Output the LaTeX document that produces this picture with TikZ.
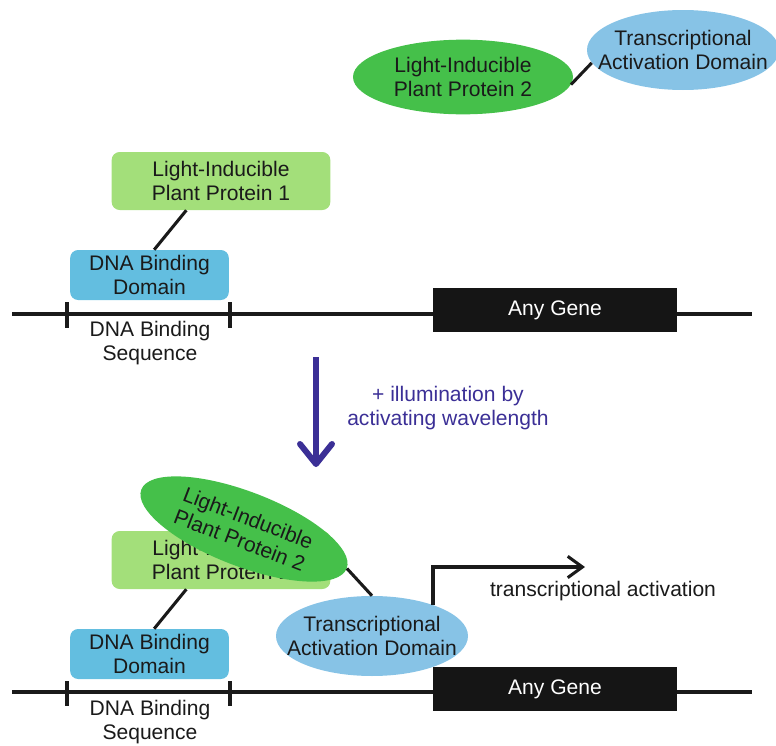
\documentclass[tikz,border=0pt]{standalone}
\usepackage{fontspec}
\setmainfont{Liberation Sans}
\usetikzlibrary{shapes.geometric,arrows.meta}
\definecolor{lippdark}{HTML}{45C04A}
\definecolor{lipplight}{HTML}{A3DF7A}
\definecolor{dbdblue}{HTML}{63BEE0}
\definecolor{tadblue}{HTML}{87C3E6}
\definecolor{genebk}{HTML}{151515}
\definecolor{txt}{HTML}{1A1A1A}
\definecolor{purp}{HTML}{3B2F96}
\tikzset{
  lbl/.style={font=\fontsize{15.8}{18}\selectfont, text=txt, align=center, inner sep=0pt},
  lippone/.style={lbl, rectangle, rounded corners=6pt, fill=lipplight, minimum width=164pt, minimum height=43.5pt},
  dbdbox/.style={lbl, rectangle, rounded corners=6pt, fill=dbdblue, minimum width=119pt, minimum height=37.5pt},
  genebox/.style={lbl, rectangle, fill=genebk, text=white, minimum width=183pt, minimum height=33pt},
  lipptwo/.style={ellipse, fill=lippdark, inner sep=0pt, minimum width=165pt, minimum height=56pt},
  tadell/.style={ellipse, fill=tadblue, inner sep=0pt, minimum width=144pt, minimum height=60pt},
  tether/.style={draw=txt, line width=2.3pt},
  dnaline/.style={draw=txt, line width=3pt},
  tick/.style={draw=txt, line width=3pt},
}
\begin{document}
\begin{tikzpicture}[x=0.75pt,y=-0.75pt]
\useasboundingbox (0,0) rectangle (776,746);

% ---------- top panel ----------
\node[lipptwo] (l2a) at (463,77) {};
\node[lbl] (l2atext) at (l2a.center) {Light-Inducible\\Plant Protein 2};
\node[tadell] (tada) at (683,50) {};
\node[lbl] (tadatext) at (tada.center) {Transcriptional\\Activation Domain};
\draw[tether] (l2a.-4) -- (tada.188);

\node[lippone] (l1a) at (221,181) {Light-Inducible\\Plant Protein 1};
\node[dbdbox] (dbda) at (149.5,275) {DNA Binding\\Domain};
\draw[tether] ([xshift=-26pt]l1a.south) -- ([xshift=3.5pt]dbda.north);

\coordinate (dnaaL) at (12,314);
\coordinate (dnaaR) at (752,314);
\draw[dnaline] (dnaaL) -- (dnaaR);
\coordinate (tka1) at (67,302); \coordinate (tka1b) at (67,328);
\coordinate (tka2) at (230,302); \coordinate (tka2b) at (230,328);
\draw[tick] (tka1) -- (tka1b);
\draw[tick] (tka2) -- (tka2b);
\node[lbl] (dbsa) at (150,343) {DNA Binding\\Sequence};
\node[genebox] (genea) at (555,310) {Any Gene};

% ---------- illumination arrow ----------
\coordinate (arrT) at (316,357);
\coordinate (arrB) at (316,467);
\draw[draw=purp, line width=4.5pt, -{Straight Barb[length=15pt,width=24pt,round]}] (arrT) -- (arrB);
\node[lbl, text=purp] (illum) at (448,408) {+ illumination by\\activating wavelength};

% ---------- bottom panel ----------
\node[lippone] (l1b) at (221,560) {Light-Inducible\\Plant Protein 1};
\node[dbdbox] (dbdb) at (149.5,654) {DNA Binding\\Domain};
\draw[tether] ([xshift=-26pt]l1b.south) -- ([xshift=3.5pt]dbdb.north);
\node[lipptwo, rotate=-21] (l2b) at (244,529) {};
\node[lbl, rotate=-21] (l2btext) at (l2b.center) {Light-Inducible\\Plant Protein 2};
\node[tadell] (tadb) at (372,636) {};
\node[lbl] (tadbtext) at (tadb.center) {Transcriptional\\Activation Domain};
\draw[tether] (l2b.east) -- (tadb.north);

\coordinate (dnabL) at (12,692);
\coordinate (dnabR) at (752,692);
\draw[dnaline] (dnabL) -- (dnabR);
\coordinate (tkb1) at (67,681); \coordinate (tkb1b) at (67,706);
\coordinate (tkb2) at (230,681); \coordinate (tkb2b) at (230,706);
\draw[tick] (tkb1) -- (tkb1b);
\draw[tick] (tkb2) -- (tkb2b);
\node[lbl] (dbsb) at (150,722) {DNA Binding\\Sequence};
\node[genebox] (geneb) at (555,689) {Any Gene};

\coordinate (tastart) at (433,605);
\coordinate (taend) at (585,567);
\draw[draw=txt, line width=2.3pt, -{Straight Barb[length=11pt,width=16pt]}] (tastart) |- (taend);
\node[lbl] (tact) at (603,591) {transcriptional activation};
\end{tikzpicture}
\end{document}
